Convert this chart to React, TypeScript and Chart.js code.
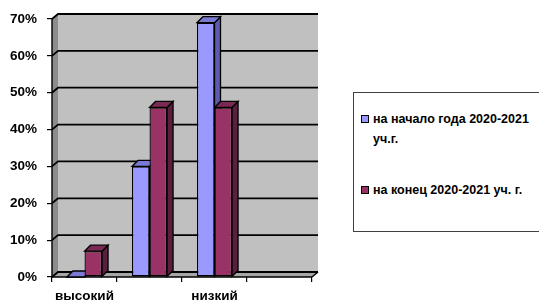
import React, { useEffect, useRef } from "react";
import { Chart, registerables } from "chart.js";

Chart.register(...registerables);

const categories = ["высокий", "средний", "низкий", ""];
const visibleLabels = ["высокий", "", "низкий", ""];
const seriesNames = ["на начало года 2020-2021 уч.г.", "на конец 2020-2021 уч. г."];
const startValues = [0, 0.3, 0.69, null];
const endValues = [0.07, 0.46, 0.46, null];
const yMax = 0.7;
const yStep = 0.1;

const frontColors = ["#9999FF", "#993366"];
const sideColors = ["#5C5CAE", "#5A1E3E"];
const topColors = ["#7A7AD2", "#7A2A52"];

const FONT = "'Liberation Sans', Arial, sans-serif";

const threeD = {
  id: "threeD",
  beforeDatasetsDraw(chart: any) {
    const { ctx, chartArea } = chart;
    const { left, right, top, bottom } = chartArea;
    const dx = 6;
    const dy = 5;
    const y = chart.scales.y;
    ctx.save();
    // left wall
    ctx.fillStyle = "#8c8c8c";
    ctx.beginPath();
    ctx.moveTo(left, top);
    ctx.lineTo(left + dx, top - dy);
    ctx.lineTo(left + dx, bottom - dy);
    ctx.lineTo(left, bottom);
    ctx.closePath();
    ctx.fill();
    // back wall
    ctx.fillStyle = "#c0c0c0";
    ctx.fillRect(left + dx, top - dy, right - left, bottom - top);
    // floor
    ctx.fillStyle = "#a6a6a6";
    ctx.beginPath();
    ctx.moveTo(left, bottom);
    ctx.lineTo(left + dx, bottom - dy);
    ctx.lineTo(right + dx, bottom - dy);
    ctx.lineTo(right, bottom);
    ctx.closePath();
    ctx.fill();
    // grid lines
    ctx.strokeStyle = "#000";
    ctx.lineWidth = 1.8;
    y.ticks.forEach((t: any) => {
      const py = y.getPixelForValue(t.value);
      ctx.beginPath();
      ctx.moveTo(left, py);
      ctx.lineTo(left + dx, py - dy);
      ctx.lineTo(right + dx, py - dy);
      ctx.stroke();
    });
    // floor right edge
    ctx.lineWidth = 1.4;
    ctx.beginPath();
    ctx.moveTo(right + dx, bottom - dy);
    ctx.lineTo(right, bottom);
    ctx.stroke();
    // axes lines
    ctx.lineWidth = 1.4;
    ctx.beginPath();
    ctx.moveTo(left, top);
    ctx.lineTo(left, bottom);
    ctx.lineTo(right, bottom);
    ctx.stroke();

    // bar depth faces
    const bdx = 6;
    const bdy = 6;
    ctx.lineWidth = 1.3;
    ctx.strokeStyle = "#000";
    chart.data.datasets.forEach((ds: any, di: number) => {
      const meta = chart.getDatasetMeta(di);
      meta.data.forEach((bar: any, i: number) => {
        const v = ds.data[i];
        if (v === null || v === undefined) return;
        const p = bar.getProps(["x", "y", "base", "width"], true);
        const x0 = p.x - p.width / 2;
        const x1 = p.x + p.width / 2;
        const yt = p.y;
        const yb = p.base;
        // side
        ctx.fillStyle = sideColors[di];
        ctx.beginPath();
        ctx.moveTo(x1, yt);
        ctx.lineTo(x1 + bdx, yt - bdy);
        ctx.lineTo(x1 + bdx, yb - bdy);
        ctx.lineTo(x1, yb);
        ctx.closePath();
        ctx.fill();
        ctx.stroke();
        // top
        ctx.fillStyle = topColors[di];
        ctx.beginPath();
        ctx.moveTo(x0, yt);
        ctx.lineTo(x0 + bdx, yt - bdy);
        ctx.lineTo(x1 + bdx, yt - bdy);
        ctx.lineTo(x1, yt);
        ctx.closePath();
        ctx.fill();
        ctx.stroke();
      });
    });
    ctx.restore();
  },
};

export default function App() {
  const canvasRef = useRef<HTMLCanvasElement | null>(null);

  useEffect(() => {
    document.body.style.margin = "0";
    const canvas = canvasRef.current;
    if (!canvas) return;
    const chart = new Chart(canvas, {
      type: "bar",
      data: {
        labels: categories,
        datasets: [
          {
            label: seriesNames[0],
            data: startValues,
            backgroundColor: frontColors[0],
            borderColor: "#000",
            borderWidth: 1.3,
            borderSkipped: false,
          },
          {
            label: seriesNames[1],
            data: endValues,
            backgroundColor: frontColors[1],
            borderColor: "#000",
            borderWidth: 1.3,
            borderSkipped: false,
          },
        ] as any,
      },
      options: {
        animation: false,
        responsive: false,
        maintainAspectRatio: false,
        layout: { padding: { top: 19, right: 227, left: 0, bottom: 0 } },
        datasets: { bar: { categoryPercentage: 0.54, barPercentage: 1 } },
        plugins: { legend: { display: false }, tooltip: { enabled: false } },
        scales: {
          x: {
            offset: true,
            grid: {
              offset: true,
              drawOnChartArea: false,
              drawTicks: true,
              tickLength: 5,
              color: "#000",
              lineWidth: 1.2,
            },
            border: { display: false },
            ticks: {
              autoSkip: false,
              maxRotation: 0,
              padding: 6,
              color: "#000",
              font: { family: FONT, size: 13.5, weight: "bold" },
              callback: (_v: any, i: number) => visibleLabels[i],
            },
            afterFit: (s: any) => {
              s.height = 27;
            },
          },
          y: {
            min: 0,
            max: yMax,
            grid: {
              drawOnChartArea: false,
              drawTicks: true,
              tickLength: 5,
              color: "#000",
              lineWidth: 1.2,
            },
            border: { display: false },
            ticks: {
              stepSize: yStep,
              padding: 10,
              color: "#000",
              font: { family: FONT, size: 13.5, weight: "bold" },
              callback: (v: any) => Math.round(Number(v) * 100) + "%",
            },
            afterFit: (s: any) => {
              s.width = 52;
            },
          },
        },
      } as any,
      plugins: [threeD],
    });
    return () => chart.destroy();
  }, []);

  const legendText: React.CSSProperties = {
    fontFamily: FONT,
    fontWeight: "bold",
    fontSize: "12.5px",
    lineHeight: "20px",
    color: "#000",
    width: 160,
  };
  const square = (c: string): React.CSSProperties => ({
    width: 6,
    height: 6,
    border: "1px solid #000",
    background: c,
    marginTop: 6,
    marginRight: 4,
    flex: "0 0 auto",
  });

  return (
    <div style={{ position: "relative", width: 539, height: 304, background: "#fff" }}>
      <canvas ref={canvasRef} width={539} height={304} style={{ display: "block", width: 539, height: 304 }} />
      <div
        style={{
          position: "absolute",
          left: 353,
          top: 92,
          width: 200,
          height: 140,
          border: "1px solid #404040",
          background: "#fff",
          boxSizing: "border-box",
        }}
      >
        <div style={{ position: "absolute", left: 7, top: 16, display: "flex" }}>
          <div style={square(frontColors[0])} />
          <div style={legendText}>{seriesNames[0]}</div>
        </div>
        <div style={{ position: "absolute", left: 7, top: 87, display: "flex" }}>
          <div style={square(frontColors[1])} />
          <div style={legendText}>{seriesNames[1]}</div>
        </div>
      </div>
    </div>
  );
}
